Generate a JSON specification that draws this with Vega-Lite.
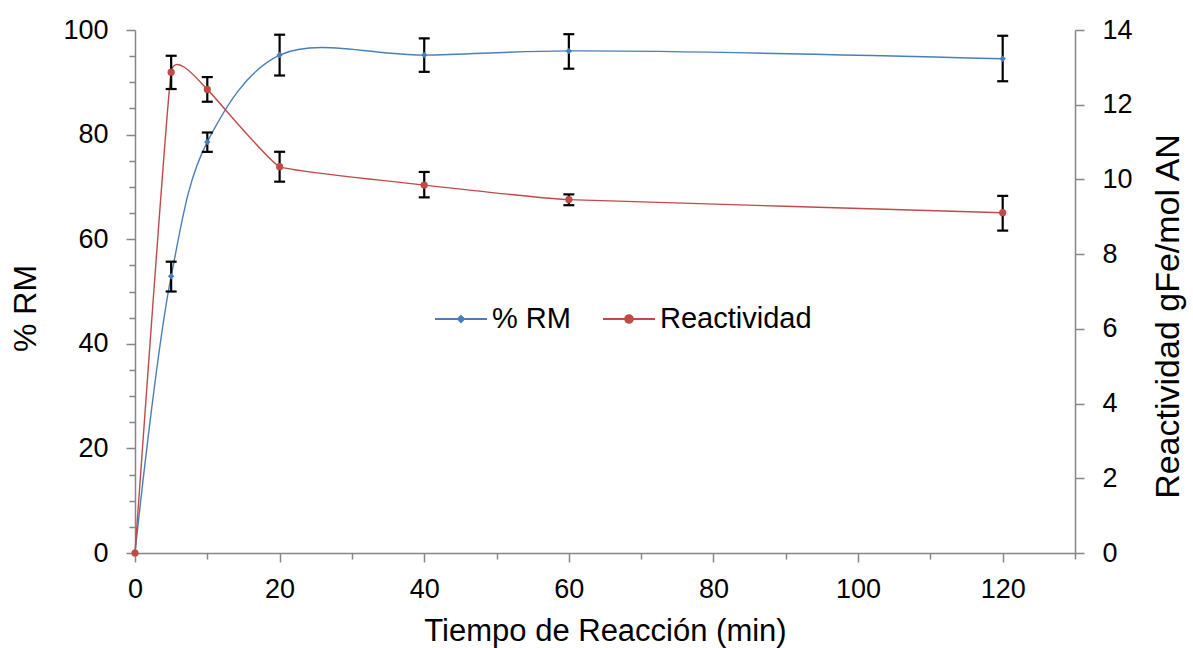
{
  "$schema": "https://vega.github.io/schema/vega-lite/v6.json",
  "width": 940,
  "height": 523,
  "autosize": "none",
  "padding": {"left": 135, "top": 30, "right": 118, "bottom": 95},
  "background": "white",
  "config": {
    "view": {"stroke": null},
    "font": "Liberation Sans",
    "axis": {
      "grid": false,
      "labelFlush": false,
      "labelOverlap": false,
      "domainColor": "#868686",
      "domainWidth": 1.5,
      "tickColor": "#868686",
      "tickWidth": 1.5,
      "labelFont": "Liberation Sans",
      "labelFontSize": 27,
      "labelColor": "black",
      "titleFont": "Liberation Sans",
      "titleFontWeight": "normal",
      "titleColor": "black"
    },
    "legend": {
      "orient": "none",
      "legendX": 299,
      "legendY": 262,
      "direction": "horizontal",
      "padding": 0,
      "labelFont": "Liberation Sans",
      "labelFontSize": 29,
      "labelColor": "black",
      "labelOffset": 4,
      "columnPadding": 28,
      "symbolSize": 2704,
      "symbolStrokeWidth": 1.8,
      "symbolType": "M-1,0H1M-0.15,0A0.15,0.15 0 1,1 0.15,0A0.15,0.15 0 1,1 -0.15,0"
    }
  },
  "data": {
    "values": [
      {"t": 0, "serie": "% RM", "v": 0, "lo": null, "hi": null},
      {"t": 5, "serie": "% RM", "v": 52.9, "lo": 50.0, "hi": 55.7},
      {"t": 10, "serie": "% RM", "v": 78.6, "lo": 76.7, "hi": 80.4},
      {"t": 20, "serie": "% RM", "v": 95.2, "lo": 91.3, "hi": 99.1},
      {"t": 40, "serie": "% RM", "v": 95.2, "lo": 92.0, "hi": 98.4},
      {"t": 60, "serie": "% RM", "v": 96.0, "lo": 92.6, "hi": 99.2},
      {"t": 120, "serie": "% RM", "v": 94.5, "lo": 90.2, "hi": 98.9},
      {"t": 0, "serie": "Reactividad", "v": 0, "lo": null, "hi": null},
      {"t": 5, "serie": "Reactividad", "v": 12.87, "lo": 12.42, "hi": 13.31},
      {"t": 10, "serie": "Reactividad", "v": 12.41, "lo": 12.08, "hi": 12.74},
      {"t": 20, "serie": "Reactividad", "v": 10.34, "lo": 9.94, "hi": 10.74},
      {"t": 40, "serie": "Reactividad", "v": 9.85, "lo": 9.52, "hi": 10.2},
      {"t": 60, "serie": "Reactividad", "v": 9.46, "lo": 9.31, "hi": 9.6},
      {"t": 120, "serie": "Reactividad", "v": 9.11, "lo": 8.63, "hi": 9.56}
    ]
  },
  "encoding": {
    "x": {
      "field": "t",
      "type": "quantitative",
      "scale": {"domain": [0, 130], "nice": false, "zero": false},
      "axis": {
        "title": "Tiempo de Reacción (min)",
        "titleFontSize": 31,
        "titlePadding": 14,
        "values": [0, 10, 20, 30, 40, 50, 60, 70, 80, 90, 100, 110, 120, 130],
        "labelExpr": "datum.value % 20 === 0 ? datum.label : ''",
        "tickSize": {"condition": {"test": "datum.value % 20 === 0", "value": 9}, "value": 6},
        "labelPadding": 14
      }
    }
  },
  "layer": [
    {
      "transform": [{"filter": "datum.serie === '% RM'"}],
      "encoding": {
        "y": {
          "field": "v",
          "type": "quantitative",
          "scale": {"domain": [0, 100], "nice": false},
          "axis": {
            "orient": "left",
            "title": "% RM",
            "titleFontSize": 32,
            "titlePadding": 20,
            "titleY": 278,
            "values": [0, 5, 10, 15, 20, 25, 30, 35, 40, 45, 50, 55, 60, 65, 70, 75, 80, 85, 90, 95, 100],
            "labelExpr": "datum.value % 20 === 0 ? datum.label : ''",
            "tickSize": {"condition": {"test": "datum.value % 20 === 0", "value": 9}, "value": 6},
            "labelPadding": 18
          }
        }
      },
      "layer": [
        {
          "mark": {"type": "line", "interpolate": "catmull-rom", "strokeWidth": 1.4},
          "encoding": {
            "color": {
              "field": "serie",
              "type": "nominal",
              "scale": {"domain": ["% RM", "Reactividad"], "range": ["#4A7EBB", "#BE4B48"]},
              "legend": {
                "title": null,
                "encode": {
                  "symbols": {
                    "update": {
                      "fill": {"scale": "color", "field": "value"},
                      "stroke": {"scale": "color", "field": "value"},
                      "shape": {"signal": "datum.value === '% RM' ? 'M-1,0H1M0,-0.12L0.12,0L0,0.12L-0.12,0Z' : 'M-1,0H1M-0.15,0A0.15,0.15 0 1,1 0.15,0A0.15,0.15 0 1,1 -0.15,0'"}
                    }
                  }
                }
              }
            }
          }
        },
        {
          "transform": [{"filter": "datum.lo != null"}],
          "mark": {"type": "rule", "color": "black", "strokeWidth": 2.2},
          "encoding": {"y": {"field": "lo", "type": "quantitative"}, "y2": {"field": "hi"}}
        },
        {
          "transform": [{"filter": "datum.lo != null"}],
          "mark": {"type": "tick", "orient": "horizontal", "color": "black", "size": 11, "thickness": 2.2, "opacity": 1},
          "encoding": {"y": {"field": "lo", "type": "quantitative"}}
        },
        {
          "transform": [{"filter": "datum.lo != null"}],
          "mark": {"type": "tick", "orient": "horizontal", "color": "black", "size": 11, "thickness": 2.2, "opacity": 1},
          "encoding": {"y": {"field": "hi", "type": "quantitative"}}
        },
        {
          "mark": {"type": "point", "shape": "diamond", "filled": true, "size": 42, "color": "#4A7EBB", "opacity": 1}
        }
      ]
    },
    {
      "transform": [{"filter": "datum.serie === 'Reactividad'"}],
      "encoding": {
        "y": {
          "field": "v",
          "type": "quantitative",
          "scale": {"domain": [0, 14], "nice": false},
          "axis": {
            "orient": "right",
            "title": "Reactividad gFe/mol AN",
            "titleFontSize": 34,
            "titleAngle": 270,
            "titleBaseline": "top",
            "titlePadding": 19,
            "titleY": 286,
            "values": [0, 2, 4, 6, 8, 10, 12, 14],
            "tickSize": 9,
            "labelPadding": 18
          }
        }
      },
      "layer": [
        {
          "mark": {"type": "line", "interpolate": "cardinal", "tension": 0.7, "strokeWidth": 1.4},
          "encoding": {"color": {"field": "serie", "type": "nominal"}}
        },
        {
          "transform": [{"filter": "datum.lo != null"}],
          "mark": {"type": "rule", "color": "black", "strokeWidth": 2.2},
          "encoding": {"y": {"field": "lo", "type": "quantitative"}, "y2": {"field": "hi"}}
        },
        {
          "transform": [{"filter": "datum.lo != null"}],
          "mark": {"type": "tick", "orient": "horizontal", "color": "black", "size": 11, "thickness": 2.2, "opacity": 1},
          "encoding": {"y": {"field": "lo", "type": "quantitative"}}
        },
        {
          "transform": [{"filter": "datum.lo != null"}],
          "mark": {"type": "tick", "orient": "horizontal", "color": "black", "size": 11, "thickness": 2.2, "opacity": 1},
          "encoding": {"y": {"field": "hi", "type": "quantitative"}}
        },
        {
          "mark": {"type": "point", "shape": "circle", "filled": true, "size": 52, "color": "#BE4B48", "opacity": 1}
        }
      ]
    }
  ],
  "resolve": {"scale": {"y": "independent"}}
}
